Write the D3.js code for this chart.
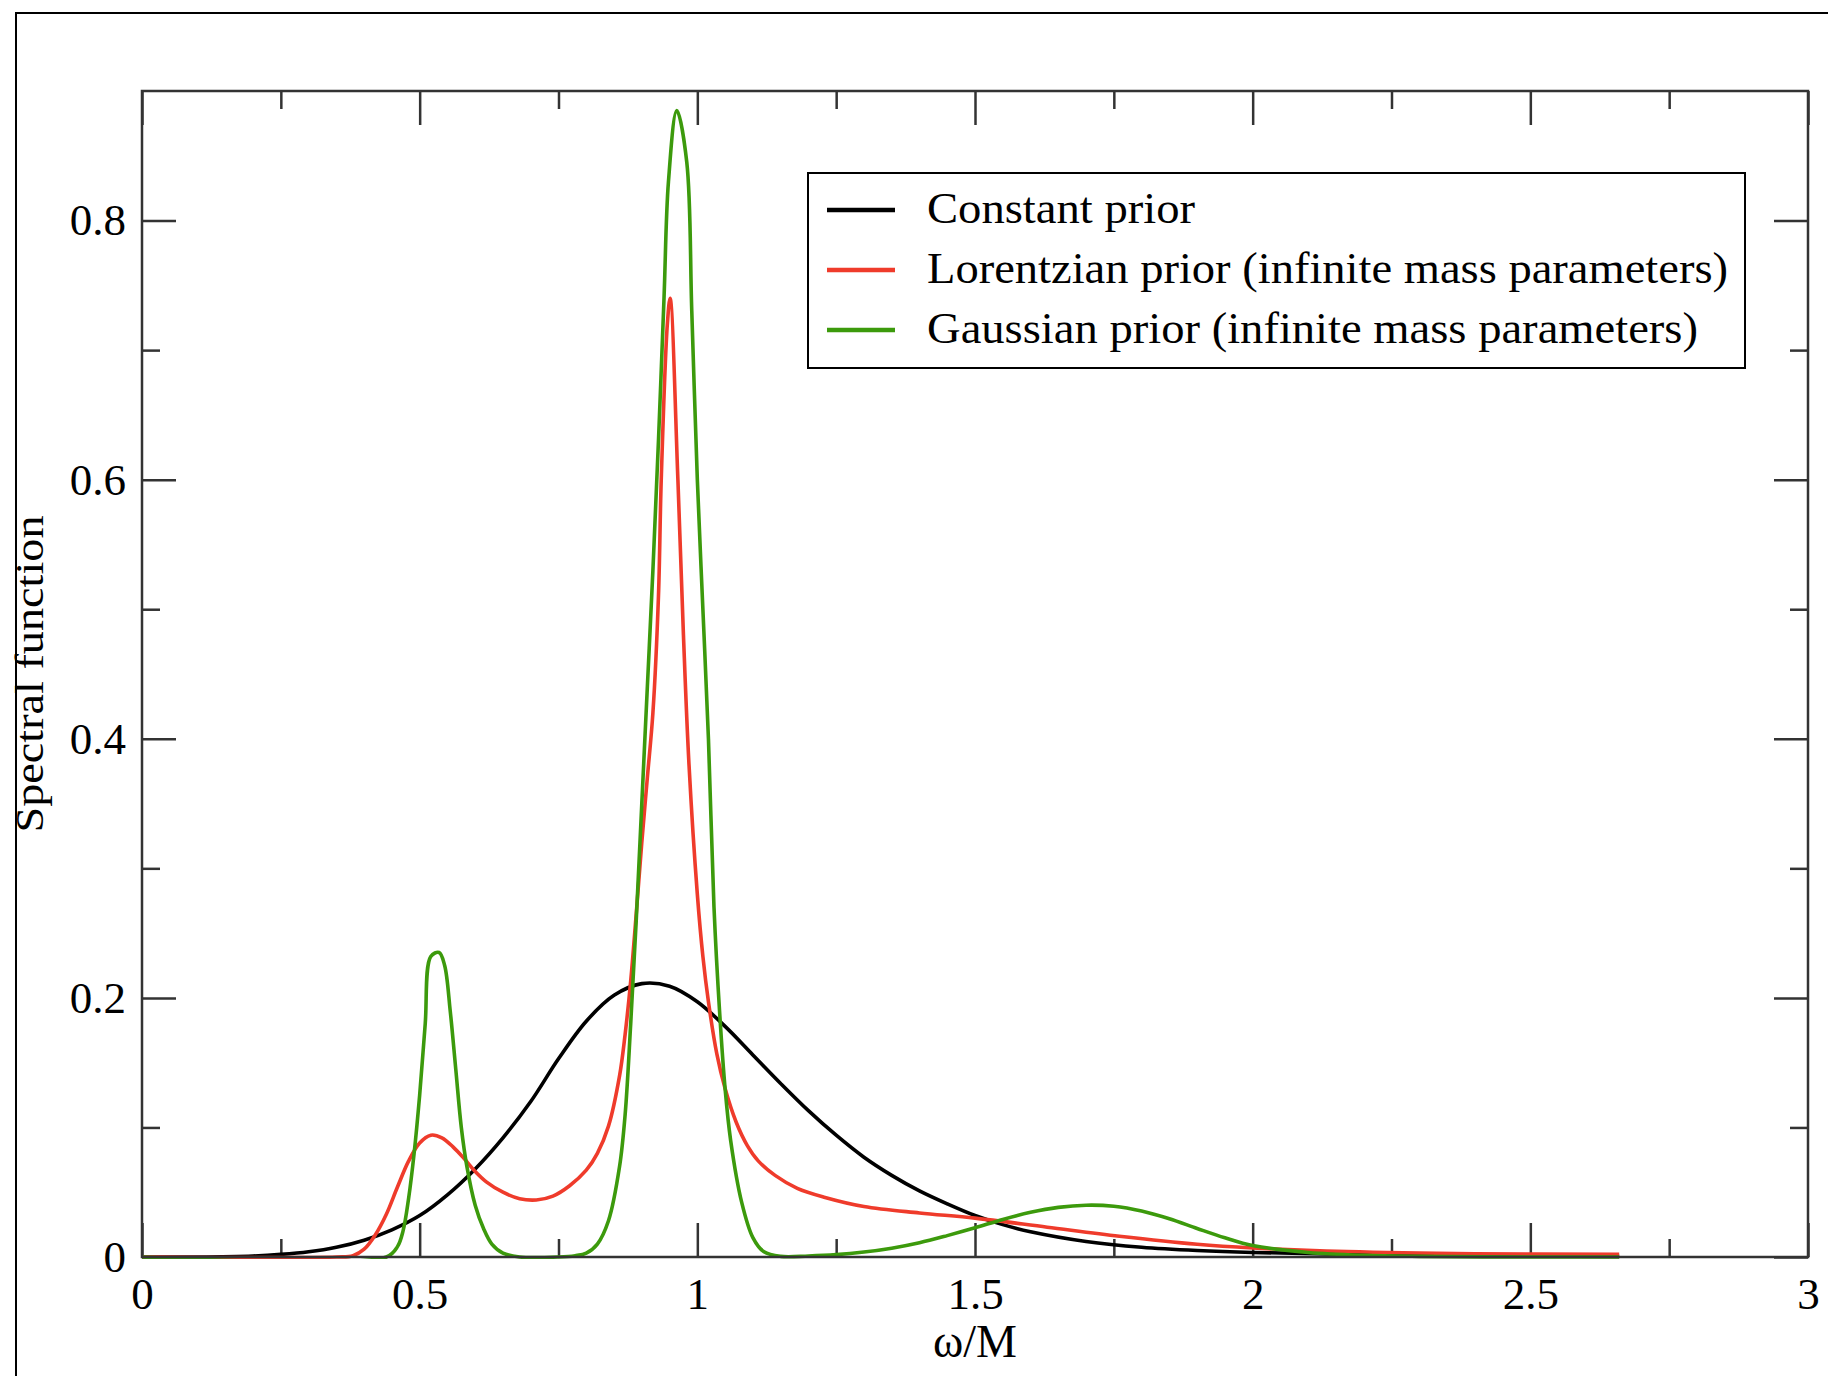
<!DOCTYPE html>
<html>
<head>
<meta charset="utf-8">
<script src="https://cdn.jsdelivr.net/npm/d3@7"></script>
<style>
  html, body { margin: 0; padding: 0; background: #fff; }
  svg { display: block; }
  text { font-family: "Liberation Serif", "DejaVu Serif", serif; fill: #000; }
</style>
</head>
<body>
<svg id="chart" width="1828" height="1376"></svg>
<script>
// ---------------- data ----------------
const seriesNames = [
  "Constant prior",
  "Lorentzian prior (infinite mass parameters)",
  "Gaussian prior (infinite mass parameters)"
];
const seriesColors = ["#000000", "#ef3b2b", "#3c9a0c"];

const constX = [0, 0.1, 0.2, 0.25, 0.3, 0.35, 0.4, 0.45, 0.5, 0.55, 0.6, 0.65, 0.7, 0.75, 0.8, 0.85, 0.9, 0.95, 1.0, 1.05, 1.1, 1.15, 1.2, 1.25, 1.3, 1.35, 1.4, 1.45, 1.5, 1.55, 1.6, 1.7, 1.8, 1.9, 2.0, 2.2, 2.4, 2.66];
const constY = [0, 0, 0.0008, 0.002, 0.004, 0.0075, 0.013, 0.021, 0.032, 0.048, 0.068, 0.092, 0.12, 0.153, 0.182, 0.202, 0.211, 0.209, 0.197, 0.178, 0.156, 0.134, 0.113, 0.094, 0.077, 0.063, 0.051, 0.041, 0.032, 0.025, 0.0195, 0.012, 0.0075, 0.005, 0.0035, 0.002, 0.001, 0.0005];

const lorX = [0, 0.35, 0.38, 0.40, 0.42, 0.44, 0.46, 0.48, 0.50, 0.52, 0.54, 0.56, 0.58, 0.60, 0.62, 0.65, 0.68, 0.71, 0.74, 0.77, 0.80, 0.82, 0.84, 0.86, 0.87, 0.88, 0.89, 0.90, 0.91, 0.92, 0.93, 0.935, 0.946, 0.951, 0.965, 0.975, 0.985, 1.0, 1.01, 1.02, 1.035, 1.05, 1.07, 1.09, 1.11, 1.14, 1.18, 1.23, 1.3, 1.4, 1.5, 1.63, 1.76, 1.9, 2.0, 2.17, 2.4, 2.66];
const lorY = [0, 0, 0.001, 0.006, 0.017, 0.033, 0.054, 0.074, 0.088, 0.094, 0.092, 0.085, 0.076, 0.066, 0.058, 0.05, 0.045, 0.044, 0.047, 0.055, 0.067, 0.080, 0.101, 0.14, 0.172, 0.213, 0.265, 0.32, 0.37, 0.42, 0.51, 0.6, 0.72, 0.74, 0.60, 0.48, 0.38, 0.28, 0.232, 0.197, 0.157, 0.13, 0.104, 0.086, 0.074, 0.063, 0.053, 0.046, 0.039, 0.034, 0.030, 0.023, 0.016, 0.0098, 0.007, 0.0042, 0.0025, 0.002];

const gaussX = [0, 0.44, 0.46, 0.47, 0.48, 0.49, 0.50, 0.51, 0.52, 0.535, 0.545, 0.555, 0.565, 0.575, 0.585, 0.60, 0.615, 0.63, 0.65, 0.68, 0.75, 0.78, 0.80, 0.82, 0.84, 0.86, 0.87, 0.88, 0.89, 0.90, 0.91, 0.92, 0.93, 0.94, 0.948, 0.963, 0.981, 0.99, 1.0, 1.01, 1.02, 1.03, 1.04, 1.05, 1.06, 1.08, 1.1, 1.12, 1.15, 1.2, 1.25, 1.3, 1.35, 1.4, 1.45, 1.5, 1.55, 1.6, 1.65, 1.7, 1.75, 1.8, 1.85, 1.9, 1.95, 2.0, 2.1, 2.2, 2.3, 2.5, 2.66];
const gaussY = [0, 0, 0.008, 0.02, 0.045, 0.08, 0.125, 0.18, 0.232, 0.235, 0.225, 0.19, 0.145, 0.10, 0.07, 0.04, 0.022, 0.01, 0.003, 0, 0, 0.001, 0.003, 0.01, 0.028, 0.07, 0.11, 0.18, 0.26, 0.35, 0.44, 0.53, 0.63, 0.74, 0.83, 0.885, 0.845, 0.73, 0.60, 0.50, 0.40, 0.27, 0.19, 0.13, 0.09, 0.042, 0.015, 0.004, 0.0005, 0.0008, 0.0018, 0.0038, 0.0068, 0.011, 0.0165, 0.0225, 0.029, 0.0345, 0.0383, 0.0400, 0.0392, 0.0355, 0.0295, 0.022, 0.0148, 0.0088, 0.0035, 0.0013, 0.0005, 0, 0];

const xMajorTicks = [0, 0.5, 1, 1.5, 2, 2.5, 3];
const xTickLabels = ["0", "0.5", "1", "1.5", "2", "2.5", "3"];
const xMinorTicks = [0.25, 0.75, 1.25, 1.75, 2.25, 2.75];
const yMajorTicks = [0, 0.2, 0.4, 0.6, 0.8];
const yTickLabels = ["0", "0.2", "0.4", "0.6", "0.8"];
const yMinorTicks = [0.1, 0.3, 0.5, 0.7];
const xTitle = "ω/M";
const yTitle = "Spectral function";

// ---------------- layout ----------------
const svg = d3.select("#chart");
const L = 142, R = 1808, T = 91, B = 1257;
const x = d3.scaleLinear().domain([0, 3]).range([L, R]);
const y = d3.scaleLinear().domain([0, 0.9]).range([B, T]);
const axisColor = "#333";
const MAJ = 34, MIN = 18;

svg.append("rect").attr("width", 1828).attr("height", 1376).attr("fill", "#fff");
// outer frame (cut off right & bottom)
svg.append("rect").attr("x", 16).attr("y", 13).attr("width", 1900).attr("height", 1500)
  .attr("fill", "none").attr("stroke", "#000").attr("stroke-width", 2);

svg.append("defs").append("clipPath").attr("id", "plotclip")
  .append("rect").attr("x", L).attr("y", T - 20).attr("width", R - L).attr("height", B - T + 22);

function styleAxis(g) {
  g.select(".domain").remove();
  g.selectAll(".tick line").attr("stroke", axisColor).attr("stroke-width", 2.5);
  g.selectAll(".tick text").attr("font-family", "'Liberation Serif', serif").attr("font-size", 45).attr("fill", "#000");
}

// bottom
svg.append("g").attr("transform", `translate(0,${B})`)
  .call(d3.axisBottom(x).tickValues(xMajorTicks).tickFormat((d, i) => xTickLabels[i]).tickSize(-MAJ).tickPadding(20))
  .call(styleAxis);
svg.append("g").attr("transform", `translate(0,${B})`)
  .call(d3.axisBottom(x).tickValues(xMinorTicks).tickFormat("").tickSize(-MIN))
  .call(styleAxis);
// top
svg.append("g").attr("transform", `translate(0,${T})`)
  .call(d3.axisTop(x).tickValues(xMajorTicks).tickFormat("").tickSize(-MAJ))
  .call(styleAxis);
svg.append("g").attr("transform", `translate(0,${T})`)
  .call(d3.axisTop(x).tickValues(xMinorTicks).tickFormat("").tickSize(-MIN))
  .call(styleAxis);
// left
svg.append("g").attr("transform", `translate(${L},0)`)
  .call(d3.axisLeft(y).tickValues(yMajorTicks).tickFormat((d, i) => yTickLabels[i]).tickSize(-MAJ).tickPadding(16))
  .call(styleAxis);
svg.append("g").attr("transform", `translate(${L},0)`)
  .call(d3.axisLeft(y).tickValues(yMinorTicks).tickFormat("").tickSize(-MIN))
  .call(styleAxis);
// right
svg.append("g").attr("transform", `translate(${R},0)`)
  .call(d3.axisRight(y).tickValues(yMajorTicks).tickFormat("").tickSize(-MAJ))
  .call(styleAxis);
svg.append("g").attr("transform", `translate(${R},0)`)
  .call(d3.axisRight(y).tickValues(yMinorTicks).tickFormat("").tickSize(-MIN))
  .call(styleAxis);

// curves
const series = [
  { xs: constX, ys: constY },
  { xs: lorX, ys: lorY },
  { xs: gaussX, ys: gaussY }
];
const line = d3.line().x(d => x(d[0])).y(d => y(d[1])).curve(d3.curveCatmullRom.alpha(0.5));
const curves = svg.append("g").attr("clip-path", "url(#plotclip)");
series.forEach((s, i) => {
  const pts = s.xs.map((v, j) => [v, s.ys[j]]);
  curves.append("path").datum(pts).attr("d", line)
    .attr("fill", "none").attr("stroke", seriesColors[i]).attr("stroke-width", 3.6)
    .attr("stroke-linejoin", "round");
});

// plot frame
svg.append("rect").attr("x", L).attr("y", T).attr("width", R - L).attr("height", B - T)
  .attr("fill", "none").attr("stroke", axisColor).attr("stroke-width", 2.5);

// axis titles
svg.append("text").attr("x", (L + R) / 2).attr("y", 1357).attr("text-anchor", "middle")
  .attr("font-size", 46).text(xTitle);
svg.append("text").attr("transform", `translate(43,${(T + B) / 2}) rotate(-90)`)
  .attr("text-anchor", "middle").attr("font-size", 40)
  .attr("textLength", 317).attr("lengthAdjust", "spacingAndGlyphs").text(yTitle);

// legend
const lg = svg.append("g");
lg.append("rect").attr("x", 808).attr("y", 173).attr("width", 937).attr("height", 195)
  .attr("fill", "#fff").attr("stroke", "#000").attr("stroke-width", 2);
const legendWidths = [268, 801, 771];
seriesNames.forEach((name, i) => {
  const cy = 210 + i * 60;
  lg.append("line").attr("x1", 827).attr("x2", 895).attr("y1", cy).attr("y2", cy)
    .attr("stroke", seriesColors[i]).attr("stroke-width", 4.5);
  lg.append("text").attr("x", 927).attr("y", cy + 13).attr("font-size", 44)
    .attr("textLength", legendWidths[i]).attr("lengthAdjust", "spacingAndGlyphs").text(name);
});
</script>
</body>
</html>
